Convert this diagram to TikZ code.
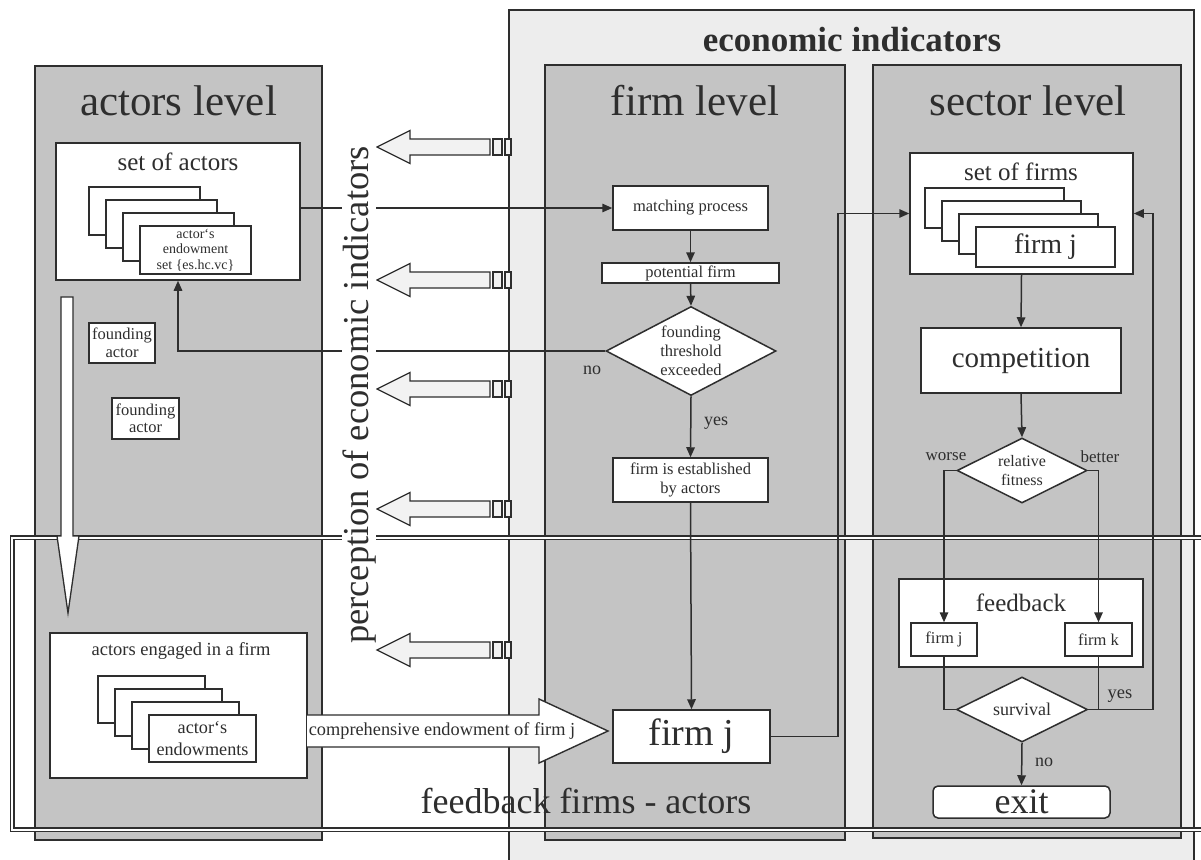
\documentclass[tikz,border=0pt]{standalone}
\usepackage{fontspec}
\setmainfont{Liberation Serif}
\usetikzlibrary{shapes.geometric,arrows.meta}
\definecolor{ink}{HTML}{2E2E2E}
\definecolor{panel}{HTML}{C4C4C4}
\definecolor{econbg}{HTML}{EDEDED}
\definecolor{arrowfill}{HTML}{F2F2F2}
\newcommand\fsz[2]{\fontsize{#1pt}{#2pt}\selectfont}
\newcommand\pcarrow[1]{%
  \draw[ink, line width=1.3pt, fill=arrowfill] (377,#1) -- (410,#1-16.5) -- (410,#1-8) -- (490,#1-8) -- (490,#1+8) -- (410,#1+8) -- (410,#1+16.5) -- cycle;
  \draw[ink, line width=1.3pt, fill=arrowfill] (493,#1-8) rectangle (502,#1+8);
  \draw[ink, line width=1.3pt, fill=arrowfill] (505,#1-8) rectangle (511,#1+8);
}
\newcommand\cardstack[7]{%
  \node[card,minimum width=#4pt,minimum height=#5pt] (#1a) at ({#2+#4/2},{#3+#5/2}) {};
  \node[card,minimum width=#4pt,minimum height=#5pt] (#1b) at ({#2+17+#4/2},{#3+13+#5/2}) {};
  \node[card,minimum width=#4pt,minimum height=#5pt] (#1c) at ({#2+34+#4/2},{#3+26+#5/2}) {};
  \node[card,minimum width=#4pt,minimum height=#5pt,font=#6] (#1d) at ({#2+51+#4/2},{#3+39+#5/2}) {#7};
}
\tikzset{
  panelbox/.style={draw=ink, fill=panel, line width=1.6pt},
  wbox/.style={draw=ink, fill=white, line width=1.5pt, inner sep=0pt, text=ink, align=center},
  card/.style={wbox, line width=1.4pt},
  conn/.style={draw=ink, line width=1.5pt},
  arr/.style={conn, -{Triangle[length=10pt,width=8.5pt]}},
  lbl/.style={text=ink, inner sep=0pt},
  dia/.style={diamond, draw=ink, fill=white, line width=1.5pt, inner sep=0pt, text=ink, align=center, aspect=2},
}
\begin{document}
\begin{tikzpicture}[x=1pt,y=-1pt]
\useasboundingbox (0,0) rectangle (1201,859);
\clip (0,0) rectangle (1201,859);
\fill[white] (0,0) rectangle (1201,859);

% economic indicators frame
\draw[ink, line width=1.6pt, fill=econbg] (509,10) rectangle (1194,880);
\node[lbl, font=\fsz{35}{40}\bfseries, anchor=base] (tecon) at (852,52) {economic indicators};

% panels
\draw[panelbox] (35,66) rectangle (322,840);
\draw[panelbox] (545,65) rectangle (845,840);
\draw[panelbox] (873,65) rectangle (1181,838);
\node[lbl, font=\fsz{43}{48}, anchor=base] (tact) at (178.5,115) {actors level};
\node[lbl, font=\fsz{43}{48}, anchor=base] (tfirm) at (695,115) {firm level};
\node[lbl, font=\fsz{43}{48}, anchor=base] (tsect) at (1028,115) {sector level};

% perception arrows
\pcarrow{147}
\pcarrow{280}
\pcarrow{389}
\pcarrow{509}
\pcarrow{650}

% feedback frame
\draw[ink, line width=1.5pt, double=white, double distance=2pt] (12,537.5) rectangle (1240,829.5);

% big down arrow
\draw[ink, line width=1.3pt, fill=white] (61,297) -- (73,297) -- (73,536) -- (79,536) -- (68,613) -- (57,536) -- (61,536) -- cycle;

% actors level
\node[wbox, minimum width=244pt, minimum height=137pt] (sa) at (178,211.5) {};
\node[lbl, font=\fsz{25}{28}] (satitle) at (178,162) {set of actors};
\cardstack{sac}{89}{187}{111}{48}{\fsz{14}{15.5}}{actor‘s\\endowment\\set \{es.hc.vc\}}
\node[wbox, minimum width=66pt, minimum height=40pt, font=\fsz{16.5}{17.5}] (fa1) at (122,343) {founding\\actor};
\node[wbox, minimum width=67pt, minimum height=41pt, font=\fsz{16.5}{17.5}] (fa2) at (145.5,418.5) {founding\\actor};
\node[wbox, minimum width=257pt, minimum height=145pt] (ae) at (178.5,705.5) {};
\node[lbl, font=\fsz{18.5}{21}] (aetitle) at (181,651) {actors engaged in a firm};
\cardstack{aec}{98}{676}{107}{47}{\fsz{18.2}{22}}{actor‘s\\endowments}

% firm level
\node[wbox, minimum width=155pt, minimum height=44pt, font=\fsz{16.5}{19}] (mp) at (690.5,208) {matching process};
\node[wbox, minimum width=177pt, minimum height=20pt, font=\fsz{16.5}{19}] (pf) at (690.5,273) {potential firm};
\node[dia, aspect=1.9, minimum width=170pt, minimum height=89pt, font=\fsz{16.5}{19}] (thr) at (691,351) {founding\\threshold\\exceeded};
\node[wbox, minimum width=155pt, minimum height=44pt, font=\fsz{16.5}{19}] (est) at (690.5,480) {firm is established\\by actors};
\node[wbox, minimum width=157pt, minimum height=53pt, font=\fsz{38}{40}] (fj) at (691.5,736.5) {firm j};
\node[lbl, font=\fsz{18}{20}] (nothr) at (592,370) {no};
\node[lbl, font=\fsz{18}{20}] (yesthr) at (716,423) {yes};

% sector level
\node[wbox, minimum width=223pt, minimum height=121pt] (sf) at (1021.5,213.5) {};
\node[lbl, font=\fsz{25}{28}] (sftitle) at (1021,172) {set of firms};
\cardstack{sfc}{925}{188}{139}{40}{\fsz{28}{30}}{firm j}
\node[wbox, minimum width=200pt, minimum height=65pt, font=\fsz{29}{32}] (comp) at (1021,360.5) {competition};
\node[dia, minimum width=130pt, minimum height=65pt, font=\fsz{16}{19}] (rf) at (1022,470.5) {relative\\fitness};
\node[lbl, font=\fsz{17}{19}] (worse) at (946,457) {worse};
\node[lbl, font=\fsz{17}{19}] (better) at (1100,457) {better};
\node[wbox, minimum width=244pt, minimum height=88pt] (fb) at (1021,623) {};
\node[lbl, font=\fsz{25}{28}] (fbtitle) at (1021,603) {feedback};
\node[wbox, minimum width=66pt, minimum height=33pt, font=\fsz{16.5}{19}] (fbj) at (944,639.5) {firm j};
\node[wbox, minimum width=67pt, minimum height=33pt, font=\fsz{16.5}{19}] (fbk) at (1098.5,639.5) {firm k};
\node[dia, minimum width=131pt, minimum height=65pt, font=\fsz{18}{20}] (surv) at (1022,709.5) {survival};
\node[wbox, rounded corners=5pt, minimum width=177pt, minimum height=32pt, font=\fsz{36}{38}] (exit) at (1021.5,802) {exit};
\node[lbl, font=\fsz{18.5}{20}] (yessurv) at (1120,696) {yes};
\node[lbl, font=\fsz{18}{20}] (nosurv) at (1044,762) {no};

% connectors
\coordinate (fjr) at (838,736.5);
\coordinate (svr) at (1153,709.5);
\draw[arr] (mp.west -| sa.east) -- (mp.west);
\draw[arr] (mp.south) -- (pf.north);
\draw[arr] (pf.south) -- (thr.north);
\draw[arr] (thr.south) -- (est.north);
\draw[arr] (est.south) -- (fj.north);
\draw[arr] (thr.west) -| (sa.south);
\draw[arr] (fj.east) -- (fjr) |- (sf.west);
\draw[arr] (sf.south) -- (comp.north);
\draw[arr] (comp.south) -- (rf.north);
\draw[arr] (rf.west) -| (fbj.north);
\draw[arr] (rf.east) -| (fbk.north);
\draw[conn] (fbj.south) |- (surv.west);
\draw[conn] (fbk.south) |- (surv.east);
\draw[arr] (surv.east) -- (svr) |- (sf.east);
\draw[arr] (surv.south) -- (exit.north);

% comprehensive endowment arrow
\draw[ink, line width=1.4pt, fill=white] (307,715) -- (539,715) -- (539,699) -- (608,731) -- (539,763) -- (539,747) -- (307,747);
\node[lbl, font=\fsz{18.3}{20}] (comp-endow) at (442,731) {comprehensive endowment of firm j};

% overlay texts
\node[lbl, fill=white, inner sep=0.5pt, rotate=90, anchor=base, font=\fsz{36.5}{40}] (perc) at (368,395) {perception of economic indicators};
\node[lbl, font=\fsz{36}{40}, anchor=base] (tfb) at (586,813) {feedback firms - actors};
\end{tikzpicture}
\end{document}
